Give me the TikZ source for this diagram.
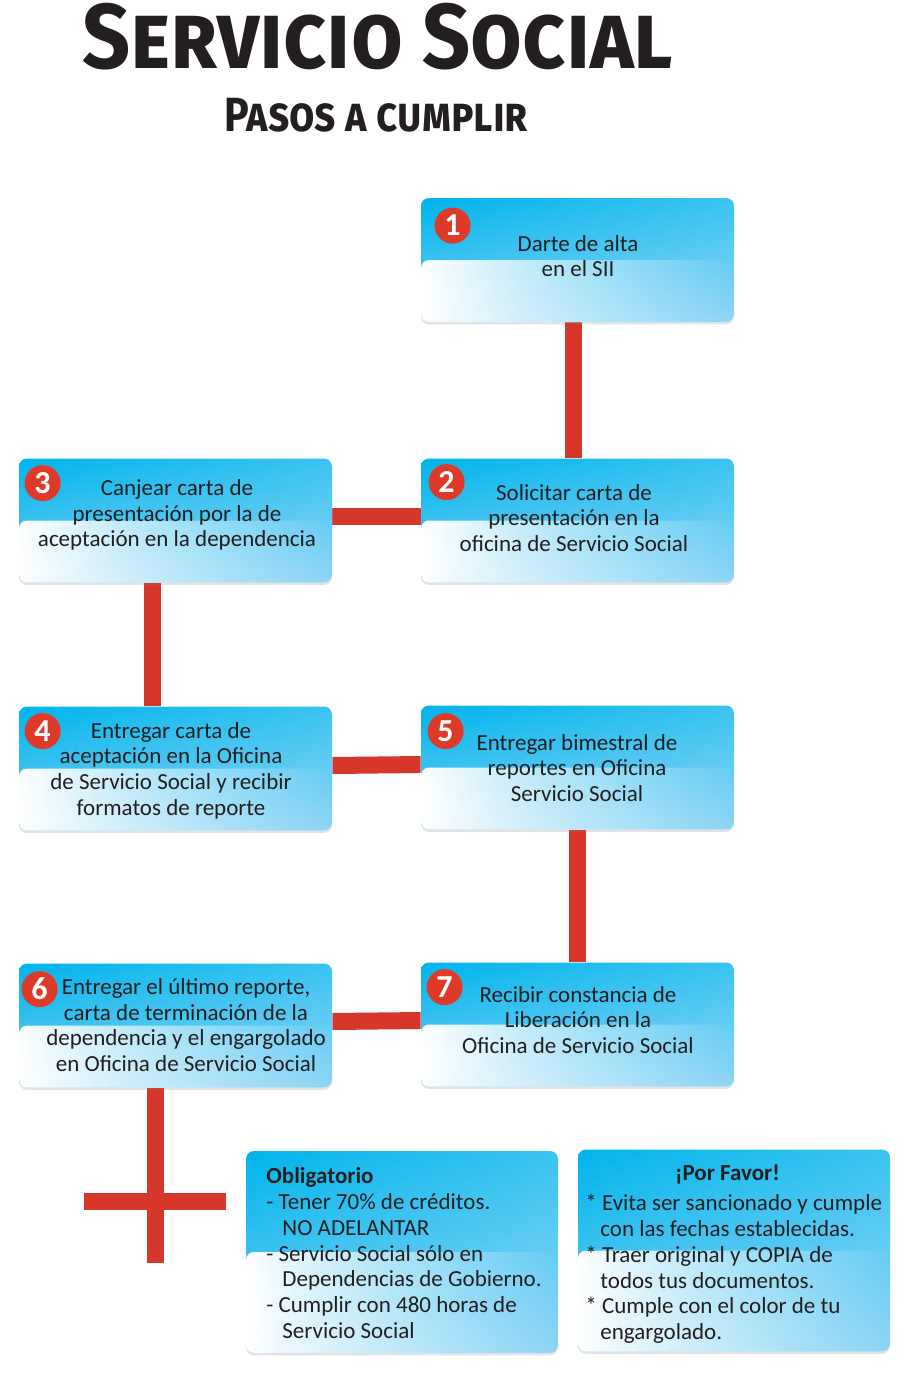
\documentclass[tikz,border=0pt]{standalone}
\usepackage{fontspec}
\setmainfont{Carlito}
\newfontfamily\titlefont{Fira Sans}
\usetikzlibrary{shadows,shadings,fadings,backgrounds}

\definecolor{ink}{HTML}{231F20}
\definecolor{linkred}{HTML}{D7372A}
\definecolor{badgered}{HTML}{DD3A2A}
\definecolor{boxnw}{HTML}{00B4EC}
\definecolor{boxne}{HTML}{3AC3F0}
\definecolor{boxsw}{HTML}{6ECDF3}
\definecolor{boxse}{HTML}{8FD5F5}

\tikzfading[name=gloss, left color=transparent!0, right color=transparent!100]

\tikzset{
  glossy/.style={rounded corners=4pt, inner sep=0pt, fill=white,
    drop shadow={shadow xshift=0pt, shadow yshift=-1.2pt, opacity=0.22},
    path picture={
      \shade[upper left=boxnw, upper right=boxne, lower left=boxsw, lower right=boxse]
        (path picture bounding box.north west) rectangle (path picture bounding box.south east);
      \fill[white, path fading=gloss]
        (path picture bounding box.west) rectangle (path picture bounding box.south east);
    }},
  stepbox/.style={glossy, minimum width=156.5pt, minimum height=62pt},
  notebox/.style={glossy, minimum width=156pt, minimum height=101pt},
  steptext/.style={align=center, text=ink, inner sep=0pt, font=\fontsize{11.5}{12.85}\selectfont},
  notetext/.style={align=left, text=ink, inner sep=0pt, anchor=west, font=\fontsize{11.5}{12.85}\selectfont},
  badge/.style={circle, fill=badgered, text=white, minimum size=18pt, inner sep=0pt,
    font=\bfseries\fontsize{16}{16}\selectfont},
  link/.style={draw=linkred, line width=8.5pt},
}

\begin{document}
\begin{tikzpicture}[x=0.5pt, y=-0.5pt]
  \useasboundingbox (0,0) rectangle (922,1388);

  % title
  \node[anchor=base west, inner sep=0pt, text=ink, font=\titlefont\bfseries\scshape\fontsize{46}{46}\selectfont]
    (title) at (82,68) {\scalebox{0.915}[1]{Servicio Social}};
  \node[anchor=base west, inner sep=0pt, text=ink, font=\titlefont\bfseries\scshape\fontsize{24}{24}\selectfont]
    (subtitle) at (224,131) {\scalebox{0.86}[1]{Pasos a cumplir}};

  % steps
  \node[stepbox] (s1) at (577.5,260) {};
  \node[stepbox] (s2) at (577.5,520.5) {};
  \node[stepbox] (s3) at (175.5,520.5) {};
  \node[stepbox] (s4) at (175.5,768.5) {};
  \node[stepbox] (s5) at (577.5,767.5) {};
  \node[stepbox] (s6) at (175.5,1025.5) {};
  \node[stepbox] (s7) at (577.5,1024.5) {};

  \node[steptext] (t1) at (578,256) {Darte de alta\\en el SII};
  \node[steptext] (t2) at (574,518) {Solicitar carta de\\presentación en la\\oficina de Servicio Social};
  \node[steptext] (t3) at (177,515) {Canjear carta de\\presentación por la de\\aceptación en la dependencia};
  \node[steptext] (t4) at (171,770.5) {Entregar carta de\\aceptación en la Oficina\\de Servicio Social y recibir\\formatos de reporte};
  \node[steptext] (t5) at (577,768) {Entregar bimestral de\\reportes en Oficina\\Servicio Social};
  \node[steptext] (t6) at (186,1025) {Entregar el último reporte,\\carta de terminación de la\\dependencia y el engargolado\\en Oficina de Servicio Social};
  \node[steptext] (t7) at (578,1020) {Recibir constancia de\\Liberación en la\\Oficina de Servicio Social};

  \node[badge] (b1) at ([xshift=16pt,yshift=-14pt]s1.north west) {1};
  \node[badge] (b2) at ([xshift=13pt,yshift=-12pt]s2.north west) {2};
  \node[badge] (b3) at ([xshift=12pt,yshift=-12.5pt]s3.north west) {3};
  \node[badge] (b4) at ([xshift=12pt,yshift=-12.5pt]s4.north west) {4};
  \node[badge] (b5) at ([xshift=12.5pt,yshift=-13pt]s5.north west) {5};
  \node[badge] (b6) at ([xshift=10.5pt,yshift=-13pt]s6.north west) {6};
  \node[badge] (b7) at ([xshift=12pt,yshift=-12.5pt]s7.north west) {7};

  % notes
  \node[notebox] (oblig) at (402,1252) {};
  \node[notebox] (favor) at (734,1250.5) {};
  \node[notetext] (obligtext) at (266,1253) {\textbf{Obligatorio}\\
    - Tener 70\% de créditos.\\
    \hspace*{8pt}NO ADELANTAR\\
    - Servicio Social sólo en\\
    \hspace*{8pt}Dependencias de Gobierno.\\
    - Cumplir con 480 horas de\\
    \hspace*{8pt}Servicio Social};
  \node[notetext] (favortext) at (585,1254) {\makebox[142pt]{\bfseries ¡Por Favor!}\\[2.5pt]
    * Evita ser sancionado y cumple\\
    \hspace*{7.5pt}con las fechas establecidas.\\
    * Traer original y COPIA de\\
    \hspace*{7.5pt}todos tus documentos.\\
    * Cumple con el color de tu\\
    \hspace*{7.5pt}engargolado.};

  % connectors
  \coordinate (crossfoot) at (155,1263);
  \coordinate (crossleft) at (84,1201);
  \coordinate (crossright) at (226,1201);
  \begin{scope}[on background layer]
    \draw[link] ([xshift=-2pt]s1.south) -- ([xshift=-2pt]s2.north);
    \draw[link] ([yshift=2pt]s3.east) -- ([yshift=2pt]s2.west);
    \draw[link] ([xshift=-11.75pt]s3.south) -- ([xshift=-11.75pt]s4.north);
    \draw[link] ([yshift=1.5pt]s4.east) -- ([yshift=1.5pt]s5.west);
    \draw[link] (s5.south) -- (s7.north);
    \draw[link] ([yshift=2pt]s6.east) -- ([yshift=2pt]s7.west);
    \draw[link] ([xshift=-10.25pt]s6.south) -- (crossfoot);
    \draw[link] (crossleft) -- (crossright);
  \end{scope}
\end{tikzpicture}
\end{document}
